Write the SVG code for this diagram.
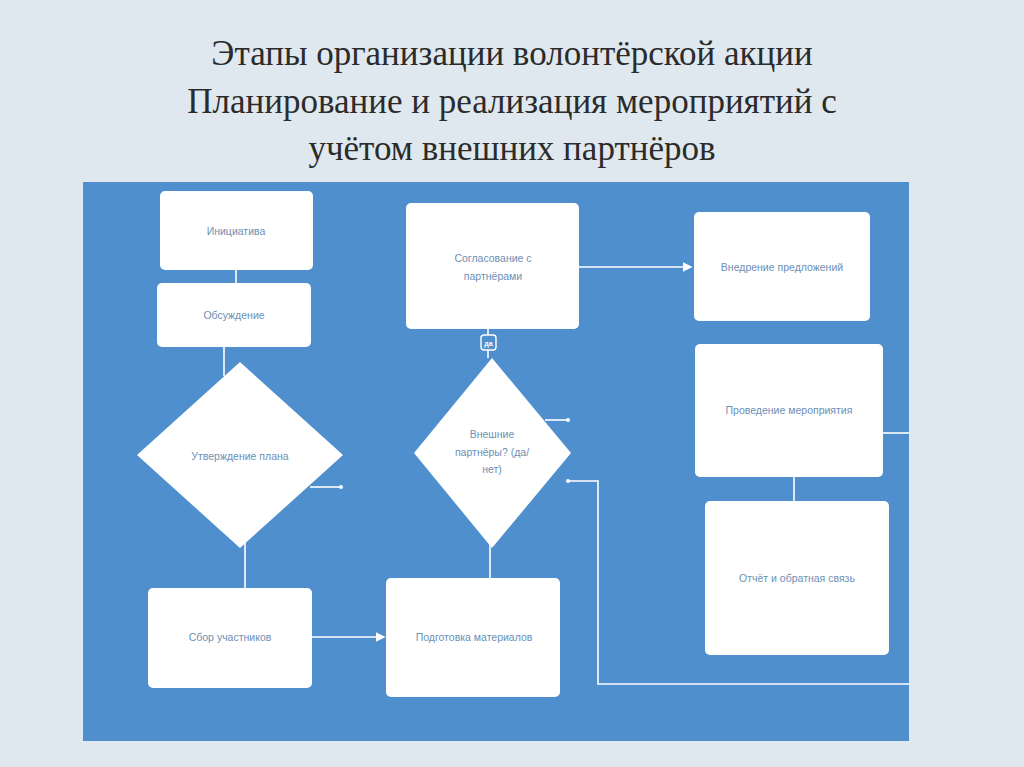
<svg xmlns="http://www.w3.org/2000/svg" width="1024" height="767" viewBox="0 0 1024 767">
<defs>
<style>
.t{font-family:"Liberation Serif",serif;font-size:35px;fill:#2b2b2b;text-anchor:middle}
.n{fill:#fff}
.l{font-family:"Liberation Sans",Arial,sans-serif;font-size:10.5px;fill:#6d8fb5;text-anchor:middle}
.c{stroke:#fff;stroke-width:1.6;fill:none}
.d{fill:#fff}
</style>
<marker id="a" markerWidth="6" markerHeight="6" refX="5" refY="3" orient="auto"><path d="M0,0L6,3L0,6z" fill="#fff"/></marker>
</defs>
<rect width="1024" height="767" fill="#dfe8ee"/>
<text class="t" x="512" y="65">Этапы организации волонтёрской акции</text>
<text class="t" x="512" y="113">Планирование и реализация мероприятий с</text>
<text class="t" x="512" y="160">учётом внешних партнёров</text>
<rect x="83" y="182" width="826" height="559" fill="#4f8fcd"/>
<g id="connectors">
<path class="c" d="M236,270V283"/>
<path class="c" d="M224,347V376"/>
<path class="c" d="M310,487H340"/><circle class="d" cx="341" cy="487" r="2"/>
<path class="c" d="M245,540V588"/>
<path class="c" d="M312,637H384" marker-end="url(#a)"/>
<path class="c" d="M490,540V578"/>
<path class="c" d="M488,329V358"/>
<rect x="481" y="335" width="15" height="15" rx="3" fill="#4f8fcd" stroke="#fff" stroke-width="1.4"/>
<text x="488.5" y="346" font-family="Liberation Sans,sans-serif" font-size="7" font-weight="bold" fill="#fff" text-anchor="middle">да</text>
<path class="c" d="M545,420H568"/><circle class="d" cx="568" cy="420" r="2"/>
<path class="c" d="M568,481H598V684H909"/><circle class="d" cx="568" cy="481" r="2"/>
<path class="c" d="M579,267H691" marker-end="url(#a)"/>
<path class="c" d="M883,433H909"/>
<path class="c" d="M794,477V501"/>
</g>
<g id="n1"><rect class="n" x="160" y="191" width="153" height="79" rx="5"/><text class="l" x="236" y="235">Инициатива</text></g>
<g id="n2"><rect class="n" x="157" y="283" width="154" height="64" rx="5"/><text class="l" x="234" y="319">Обсуждение</text></g>
<g id="n3"><polygon class="n" points="240,362 343,455 240,548 137,455"/><text class="l" x="240" y="460">Утверждение плана</text></g>
<g id="n4"><rect class="n" x="148" y="588" width="164" height="100" rx="5"/><text class="l" x="230" y="641">Сбор участников</text></g>
<g id="n5"><rect class="n" x="386" y="578" width="174" height="119" rx="5"/><text class="l" x="474" y="641">Подготовка материалов</text></g>
<g id="n6"><polygon class="n" points="492,358 571,453 492,548 414,453"/><text class="l" x="492" y="438">Внешние</text><text class="l" x="492" y="456">партнёры? (да/</text><text class="l" x="492" y="473">нет)</text></g>
<g id="n7"><rect class="n" x="406" y="203" width="173" height="126" rx="5"/><text class="l" x="493" y="262">Согласование с</text><text class="l" x="493" y="280">партнёрами</text></g>
<g id="n8"><rect class="n" x="694" y="212" width="176" height="109" rx="5"/><text class="l" x="782" y="271">Внедрение предложений</text></g>
<g id="n9"><rect class="n" x="695" y="344" width="188" height="133" rx="5"/><text class="l" x="789" y="414">Проведение мероприятия</text></g>
<g id="n10"><rect class="n" x="705" y="501" width="184" height="154" rx="5"/><text class="l" x="797" y="582">Отчёт и обратная связь</text></g>
</svg>
